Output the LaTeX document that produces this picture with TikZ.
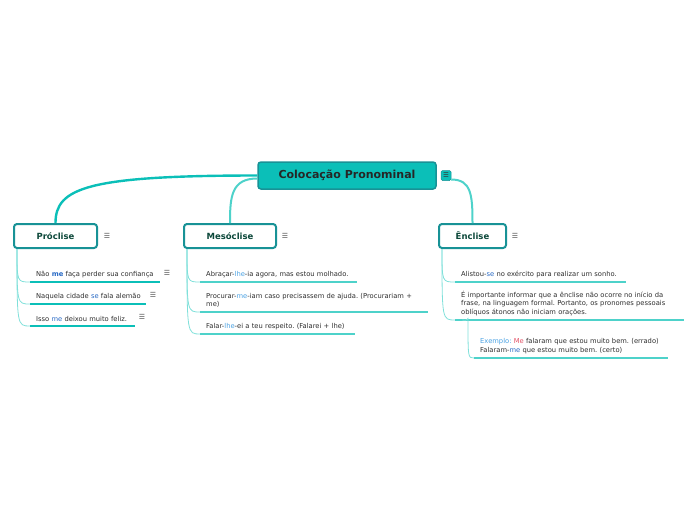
\documentclass[tikz,border=0pt]{standalone}
\usepackage{fontspec}
\setmainfont{DejaVu Sans}
\usepackage{xcolor}
\usetikzlibrary{positioning}
\definecolor{mapteal}{RGB}{11,191,184}
\definecolor{mapborder}{RGB}{24,146,150}
\definecolor{maplight}{RGB}{78,210,202}
\definecolor{mappale}{RGB}{128,224,218}
\definecolor{branchtext}{RGB}{12,72,58}
\definecolor{leaftext}{RGB}{45,45,45}
\definecolor{pronblue}{RGB}{38,104,196}
\definecolor{pronlight}{RGB}{72,160,226}
\definecolor{pronred}{RGB}{226,82,102}
\definecolor{icongray}{RGB}{85,85,85}
\frenchspacing
\tikzset{
  rootblock/.style={rectangle, rounded corners=3pt, fill=mapteal, draw=mapborder,
    line width=1.5pt, minimum width=178pt, minimum height=27pt,
    font=\fontsize{11}{12}\selectfont\bfseries, text=black!85},
  branchblock/.style={rectangle, rounded corners=3pt, fill=white, draw=mapborder,
    line width=2pt, minimum height=24pt, text=branchtext,
    font=\fontsize{8.5}{10}\selectfont\bfseries},
  leafnote/.style={anchor=south west, inner xsep=6pt, inner ysep=4pt, align=left,
    text=leaftext, font=\fontsize{6.75}{8.6}\selectfont},
  menuicon/.style={inner sep=0pt, text=icongray, font=\fontsize{7}{8}\selectfont},
  rooticon/.style={rectangle, rounded corners=1.5pt, fill=mapteal, draw=mapborder,
    line width=0.5pt, minimum size=10pt, inner sep=0pt, text=black!80,
    font=\fontsize{6.5}{8}\selectfont},
  mainlink/.style={draw=mapteal, line width=2.4pt},
  sidelink/.style={draw=maplight, line width=2pt},
  leaflink/.style={draw=mappale, line width=0.8pt},
  darkline/.style={draw=mapteal, line width=1.6pt},
  lightline/.style={draw=maplight, line width=1.6pt},
}

\begin{document}
\begin{tikzpicture}[x=1pt, y=-1pt]
  \useasboundingbox (0,0) rectangle (696,520);

  % centre
  \node[rootblock] (root) at (347,175.5) {Colocação Pronominal};
  \node[rooticon] (rootmenu) at (446,175.5) {☰};

  % branches
  \node[branchblock, minimum width=83pt] (pro) at (55.5,236) {Próclise};
  \node[branchblock, minimum width=92pt] (mes) at (230,236) {Mesóclise};
  \node[branchblock, minimum width=67pt] (enc) at (472.5,236) {Ênclise};
  \node[menuicon] (promenu) at (107,236) {☰};
  \node[menuicon] (mesmenu) at (285,236) {☰};
  \node[menuicon] (encmenu) at (515,236) {☰};

  \draw[mainlink] (root.west) .. controls +(-170,0) and +(0,-35) .. (pro.north);
  \draw[sidelink] ([yshift=-3pt]root.west) .. controls +(-26,0) and +(0,-26) .. (mes.north);
  \draw[sidelink] ([yshift=-4pt]rootmenu.east) .. controls +(20,0) and +(0,-28) .. (enc.north);

  % Proclise
  \node[leafnote, text width=118pt] (p1) at (30,282)
    {\mbox{Não \textcolor{pronblue}{\textbf{me}} faça perder sua confiança}};
  \node[leafnote, text width=104pt] (p2) at (30,304)
    {\mbox{Naquela cidade \textcolor{pronblue}{se} fala alemão}};
  \node[leafnote, text width=93pt] (p3) at (30,326)
    {\mbox{Isso \textcolor{pronblue}{me} deixou muito feliz.}};
  \node[menuicon] (p1menu) at (167,273) {☰};
  \node[menuicon] (p2menu) at (153,295) {☰};
  \node[menuicon] (p3menu) at (142,317) {☰};

  % Mesoclise
  \node[leafnote, text width=145pt] (m1) at (200,282)
    {\mbox{Abraçar-\textcolor{pronlight}{lhe}-ia agora, mas estou molhado.}};
  \node[leafnote, text width=216pt] (m2) at (200,312)
    {\mbox{Procurar-\textcolor{pronlight}{me}-iam caso precisassem de ajuda. (Procurariam +}\\me)};
  \node[leafnote, text width=143pt] (m3) at (200,334)
    {\mbox{Falar-\textcolor{pronlight}{lhe}-ei a teu respeito. (Falarei + lhe)}};

  % Enclise
  \node[leafnote, text width=159pt] (e1) at (455,282)
    {\mbox{Alistou-\textcolor{pronblue}{se} no exército para realizar um sonho.}};
  \node[leafnote, text width=217pt] (e2) at (455,320)
    {\mbox{É importante informar que a ênclise não ocorre no início da}\\
     \mbox{frase, na linguagem formal. Portanto, os pronomes pessoais}\\
     \mbox{oblíquos átonos não iniciam orações.}};
  \node[leafnote, text width=182pt] (e3) at (474,358)
    {\mbox{\textcolor{pronlight}{Exemplo:} \textcolor{pronred}{Me} falaram que estou muito bem. (errado)}\\
     \mbox{Falaram-\textcolor{pronblue}{me} que estou muito bem. (certo)}};

  % underlines
  \foreach \leaf in {p1,p2,p3}
    \draw[darkline] (\leaf.south west) -- (\leaf.south east);
  \foreach \leaf in {m1,m2,m3,e1,e2,e3}
    \draw[lightline] (\leaf.south west) -- (\leaf.south east);

  % leaf connectors
  \coordinate (profoot) at ([xshift=4pt]pro.south west);
  \coordinate (mesfoot) at ([xshift=4pt]mes.south west);
  \coordinate (encfoot) at ([xshift=4pt]enc.south west);
  \coordinate (e2foot) at ([xshift=7pt]e2.south west);
  \foreach \leaf in {p1,p2,p3}
    \draw[leaflink] (profoot) .. controls (profoot |- \leaf.south west) .. (\leaf.south west);
  \foreach \leaf in {m1,m2,m3}
    \draw[leaflink] (mesfoot) .. controls (mesfoot |- \leaf.south west) .. (\leaf.south west);
  \foreach \leaf in {e1,e2}
    \draw[leaflink] (encfoot) .. controls (encfoot |- \leaf.south west) .. (\leaf.south west);
  \draw[leaflink] (e2foot) .. controls +(6,2) and +(0,-4) .. ([xshift=13pt]e2.south west)
    .. controls ([xshift=13pt]e2.south west |- e3.south west) .. (e3.south west);
\end{tikzpicture}
\end{document}
